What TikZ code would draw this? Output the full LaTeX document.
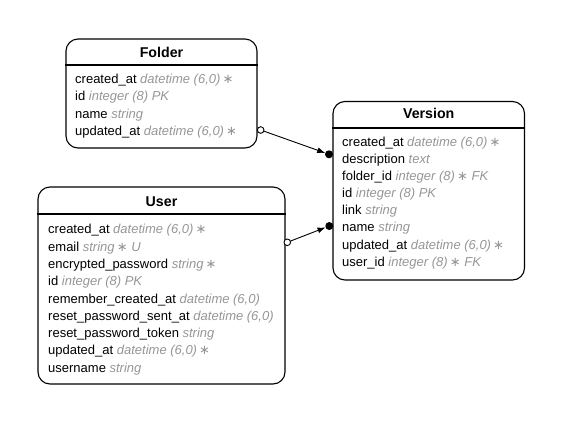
\documentclass[tikz,border=0pt]{standalone}
\usepackage{fontspec}
\setmainfont{Liberation Sans}
\newfontfamily\symfont{DejaVu Sans}
\usetikzlibrary{arrows.meta}

\definecolor{typegray}{RGB}{150,150,150}
\newcommand{\attr}[2]{#1 {\color{typegray}\itshape #2}}
\newcommand{\nn}{\,{\symfont\upshape ∗}}

\tikzset{
  entity/.style={draw, line width=1.1pt, rounded corners=12pt, inner sep=0pt},
  title/.style={font=\fontsize{14.2}{16}\selectfont\bfseries, anchor=base, inner sep=0pt},
  row/.style={font=\fontsize{13}{15}\selectfont, anchor=base west, inner sep=0pt},
  rel/.style={line width=0.9pt, -{Latex[length=8pt,width=6pt]}},
  optend/.style={draw, line width=0.9pt, fill=white},
  oneend/.style={fill=black}
}

\begin{document}
\begin{tikzpicture}[x=1pt, y=-1pt]
\useasboundingbox (0,0) rectangle (563,424);

% entities
\node[entity, minimum width=191pt, minimum height=109pt] (folder) at (161.5, 93.5) {};
\node[entity, minimum width=191.5pt, minimum height=178.5pt] (version) at (428.75, 190.75) {};
\node[entity, minimum width=247pt, minimum height=197pt] (user) at (161.5, 285.5) {};

% header rules
\draw[line width=1.1pt] (folder.west |- 0,65) -- (folder.east |- 0,65);
\draw[line width=1.1pt] (version.west |- 0,128) -- (version.east |- 0,128);
\draw[line width=1.1pt] (user.west |- 0,214) -- (user.east |- 0,214);

% titles
\node[title] (folder-title) at (161.5, 57) {Folder};
\node[title] (version-title) at (428.75, 118.5) {Version};
\node[title] (user-title) at (161.5, 206) {User};

% Folder attributes
\foreach \txt [count=\i from 0] in {
  {\attr{created\_at}{datetime (6,0)\nn}},
  {\attr{id}{integer (8) PK}},
  {\attr{name}{string}},
  {\attr{updated\_at}{datetime (6,0)\nn}}}
  \node[row] (folder-\i) at (75, 83 + 17.5*\i) {\txt};

% Version attributes
\foreach \txt [count=\i from 0] in {
  {\attr{created\_at}{datetime (6,0)\nn}},
  {\attr{description}{text}},
  {\attr{folder\_id}{integer (8)\nn{} FK}},
  {\attr{id}{integer (8) PK}},
  {\attr{link}{string}},
  {\attr{name}{string}},
  {\attr{updated\_at}{datetime (6,0)\nn}},
  {\attr{user\_id}{integer (8)\nn{} FK}}}
  \node[row] (version-\i) at (342, 146.2 + 17.15*\i) {\txt};

% User attributes
\foreach \txt [count=\i from 0] in {
  {\attr{created\_at}{datetime (6,0)\nn}},
  {\attr{email}{string\nn{} U}},
  {\attr{encrypted\_password}{string\nn}},
  {\attr{id}{integer (8) PK}},
  {\attr{remember\_created\_at}{datetime (6,0)}},
  {\attr{reset\_password\_sent\_at}{datetime (6,0)}},
  {\attr{reset\_password\_token}{string}},
  {\attr{updated\_at}{datetime (6,0)\nn}},
  {\attr{username}{string}}}
  \node[row] (user-\i) at (48, 233.8 + 17.3*\i) {\txt};

% relation ends
\coordinate (folder-port) at (260.7, 130);
\coordinate (version-port-a) at (329, 154.3);
\coordinate (user-port) at (287.3, 242.3);
\coordinate (version-port-b) at (329.3, 226);

\draw[rel, shorten <=3.5pt, shorten >=4pt] (folder-port) -- (version-port-a);
\draw[rel, shorten <=3.5pt, shorten >=4pt] (user-port) -- (version-port-b);
\fill[oneend] (version-port-a) circle (4pt);
\fill[oneend] (version-port-b) circle (4pt);
\draw[optend] (folder-port) circle (3.3pt);
\draw[optend] (user-port) circle (3.3pt);

\end{tikzpicture}
\end{document}
